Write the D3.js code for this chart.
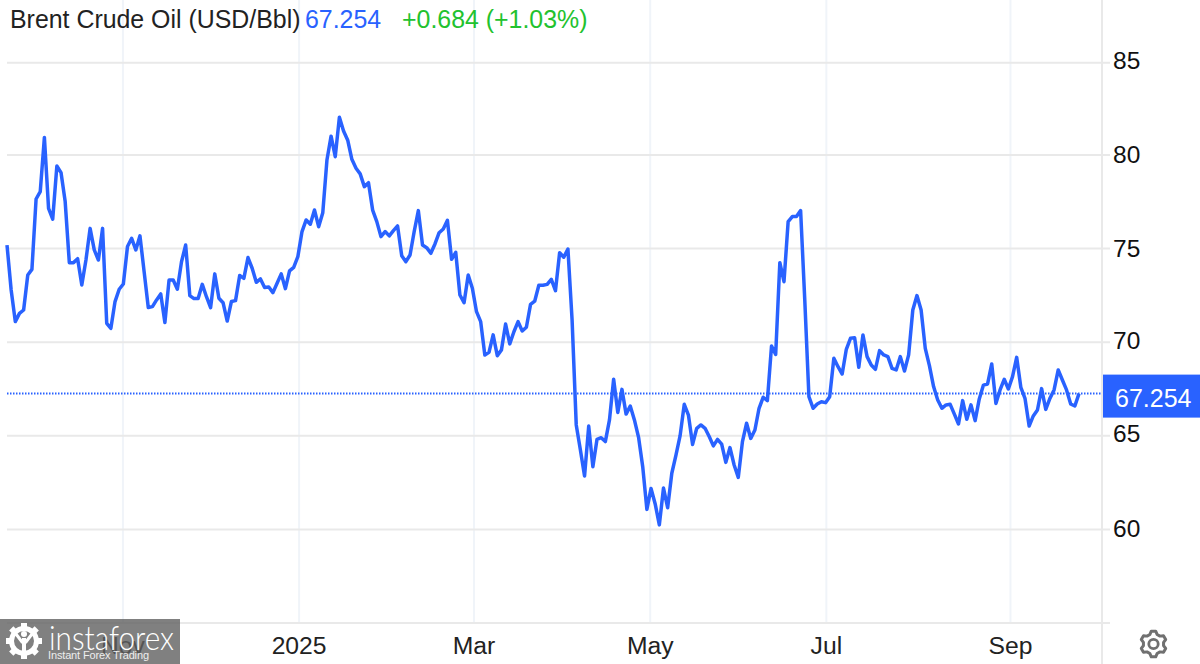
<!DOCTYPE html>
<html><head><meta charset="utf-8">
<script src="https://cdnjs.cloudflare.com/ajax/libs/d3/7.8.5/d3.min.js"></script>
<style>html,body{margin:0;padding:0;background:#fff}svg{display:block}text{font-family:"Liberation Sans",Arial,sans-serif}</style>
</head><body><svg id="c" width="1200" height="664"></svg>
<script>
const prices=[75.19,72.79,71.10,71.54,71.72,73.59,73.89,77.65,78.04,80.95,77.15,76.57,79.41,79.06,77.51,74.25,74.25,74.46,73.06,74.39,
76.08,74.93,74.39,76.08,71.01,70.74,72.17,72.83,73.11,75.11,75.55,74.93,75.68,73.77,71.85,71.90,72.26,72.58,71.05,73.32,
73.32,72.83,74.30,75.19,72.49,72.33,72.33,73.09,72.43,71.85,73.65,72.35,72.11,71.13,72.17,72.22,73.56,73.41,74.52,73.95,
73.20,73.38,72.92,72.95,72.65,73.15,73.65,72.86,73.81,74.00,74.57,75.91,76.53,76.30,77.06,76.17,76.92,79.73,81.02,79.91,
82.05,81.30,80.80,79.77,79.29,78.99,78.31,78.52,77.06,76.44,75.64,75.91,75.68,75.96,76.21,74.62,74.30,74.66,75.91,77.03,
75.19,75.05,74.75,75.25,75.85,76.05,76.51,74.43,74.80,72.52,72.11,73.59,72.88,71.63,71.10,69.32,69.46,70.39,69.28,69.59,
70.97,69.91,70.56,71.10,70.60,70.80,72.02,72.19,73.04,73.04,73.09,73.36,72.75,74.78,74.54,74.98,71.19,65.58,64.24,62.85,
65.52,63.35,64.81,64.90,64.69,65.85,68.02,66.25,67.48,66.16,66.59,65.85,64.92,63.35,61.07,62.19,61.36,60.24,62.21,61.16,
63.00,63.97,65.01,66.68,66.11,64.54,65.40,65.58,65.40,64.96,64.46,64.81,64.56,63.58,64.37,63.44,62.78,64.69,65.67,64.86,
65.31,66.47,67.06,66.88,69.80,69.35,74.25,73.23,76.44,76.71,76.71,77.03,72.26,67.09,66.47,66.70,66.82,66.77,67.09,69.14,
68.69,68.30,69.62,70.21,70.24,68.66,70.39,69.23,68.78,68.55,69.55,69.32,69.23,68.60,68.52,69.23,68.46,69.32,71.72,72.49,
71.72,69.67,68.75,67.63,66.91,66.47,66.65,66.68,66.16,65.63,66.88,65.88,66.65,65.81,66.97,67.71,67.77,68.84,66.73,67.45,
68.02,67.50,68.16,69.19,67.59,67.00,65.52,66.06,66.38,67.52,66.41,67.00,67.45,68.52,67.98,67.45,66.70,66.59,67.254];
const yTicks=[55,60,65,70,75,80,85];
const xTickLabels=["Nov","2025","Mar","May","Jul","Sep"];
const xTickIndex=[27.9,70.3,112.4,154.8,197.2,241.5];
const lastValue=67.254, change="+0.684", changePct="(+1.03%)";
const titleText="Brent Crude Oil (USD/Bbl)";

const svg=d3.select("#c");
const x=d3.scaleLinear().domain([0,prices.length-1]).range([7,1079]);
const y=d3.scaleLinear().domain([55,80,85]).range([623,155,62.7]);
const BLUE="#2962ff", GRID="#e9e9e9";
const labelNudge=v=>v===65?-2:(v===85?-1.5:(v===70?-1:0));

svg.append("g").selectAll("line").data(xTickIndex).join("line")
 .attr("x1",d=>x(d)).attr("x2",d=>x(d)).attr("y1",0).attr("y2",623)
 .attr("stroke","#f0f4f9").attr("stroke-width",2);
svg.append("g").selectAll("line").data(yTicks).join("line")
 .attr("x1",7).attr("x2",1110).attr("y1",d=>y(d)).attr("y2",d=>y(d))
 .attr("stroke",GRID).attr("stroke-width",2);
svg.append("line").attr("x1",1102).attr("x2",1102).attr("y1",0).attr("y2",664).attr("stroke",GRID).attr("stroke-width",2);
svg.append("g").selectAll("text").data(yTicks.filter(d=>d>55)).join("text")
 .attr("x",1113).attr("y",d=>y(d)+8+labelNudge(d)).attr("font-size",24.5).attr("fill","#111").text(d=>d);
svg.append("g").selectAll("text").data(xTickLabels).join("text")
 .attr("x",(d,i)=>x(xTickIndex[i])).attr("y",654).attr("text-anchor","middle")
 .attr("font-size",24.7).attr("fill","#222").text(d=>d);
svg.append("line").attr("x1",7).attr("x2",1102).attr("y1",y(lastValue)).attr("y2",y(lastValue))
 .attr("stroke",BLUE).attr("stroke-width",2).attr("stroke-dasharray","1.5 1.5");
svg.append("path").datum(prices)
 .attr("d",d3.line().x((d,i)=>x(i)).y(d=>y(d)))
 .attr("fill","none").attr("stroke",BLUE).attr("stroke-width",3.5).attr("stroke-linejoin","round");
svg.append("rect").attr("x",1103).attr("y",y(lastValue)-19).attr("width",97).attr("height",43).attr("fill",BLUE);
svg.append("text").attr("x",1115).attr("y",y(lastValue)+13).attr("font-size",25).attr("fill","#fff").text(lastValue);
const t=svg.append("text").attr("x",10).attr("y",28).attr("font-size",24.9);
t.append("tspan").attr("fill","#222").text(titleText);
t.append("tspan").attr("fill",BLUE).attr("x",305).text(lastValue);
t.append("tspan").attr("fill","#22c22e").attr("x",402).text(change+" "+changePct);

// settings gear: six teeth
const gearPts=d3.range(6).flatMap(k=>{const a=k*Math.PI/3;return [[a-0.30,13],[a-0.17,13],[a+0.17,13],[a+0.30,13],[a+0.52,10]].map((p,i)=>i===0?[a-0.36,10.2]:i===3?[a+0.36,10.2]:p).filter((p,i)=>i!==4).concat([]);});
const gear=svg.append("g").attr("transform","translate(1153.5,644)");
gear.append("path").attr("d",d3.lineRadial().angle(d=>d[0]).radius(d=>d[1]).curve(d3.curveLinearClosed)(gearPts))
 .attr("fill","none").attr("stroke","#707070").attr("stroke-width",3).attr("stroke-linejoin","round");
gear.append("circle").attr("r",4.7).attr("fill","none").attr("stroke","#707070").attr("stroke-width",2.8);

const wm=svg.append("g");
wm.append("rect").attr("x",0).attr("y",619).attr("width",180).attr("height",45).attr("fill","#606060").attr("fill-opacity",0.8);
const cog=wm.append("g").attr("transform","translate(24,641)");
cog.append("circle").attr("r",12.5).attr("fill","none").attr("stroke","#fff").attr("stroke-width",5);
cog.selectAll("rect").data(d3.range(8)).join("rect")
 .attr("x",-3).attr("y",-18).attr("width",6).attr("height",6).attr("fill","#fff").attr("transform",d=>`rotate(${d*45})`);
cog.append("rect").attr("x",-2).attr("y",-3).attr("width",4).attr("height",18).attr("fill","#fff");
cog.append("path").attr("d","M-8,-7 L-2,1 L2,1 L8,-7").attr("fill","none").attr("stroke","#fff").attr("stroke-width",3);
cog.append("circle").attr("cy",-7).attr("r",3).attr("fill","#fff");
wm.append("text").attr("x",49).attr("y",650).attr("font-size",33).attr("font-weight",300).attr("fill","#fff").style("font-family","Lato").attr("textLength",125).attr("lengthAdjust","spacingAndGlyphs").text("instaforex");
wm.append("text").attr("x",48).attr("y",659).attr("font-size",11).attr("fill","#eee").attr("textLength",101).text("Instant Forex Trading");
</script></body></html>
